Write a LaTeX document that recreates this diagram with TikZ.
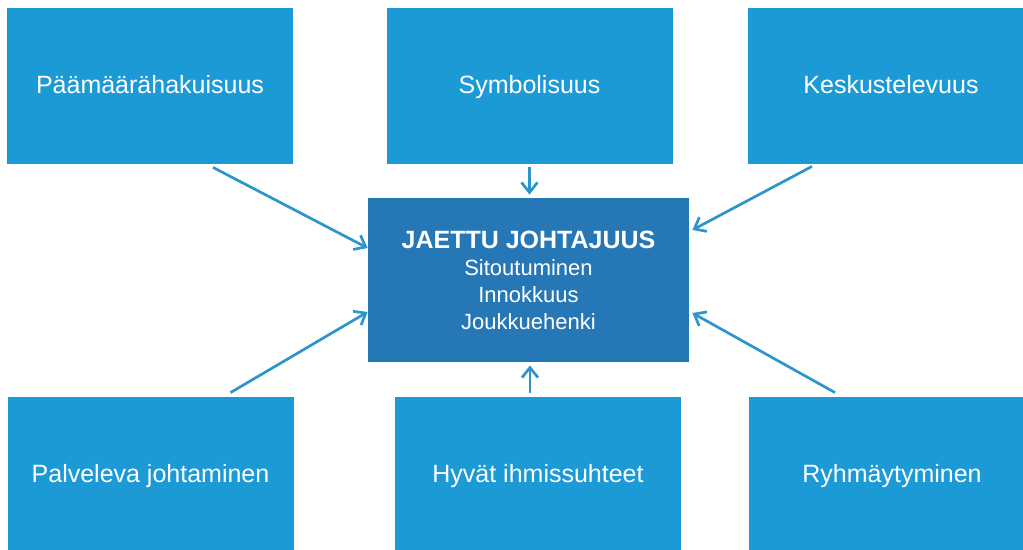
\documentclass[tikz,border=0pt]{standalone}
\usepackage{fontspec}
\setmainfont{Liberation Sans}
\usetikzlibrary{arrows.meta,calc}

\definecolor{boxblue}{HTML}{1C9AD6}
\definecolor{coreblue}{HTML}{2677B6}
\definecolor{arrowblue}{HTML}{2C96CC}

\begin{document}
\begin{tikzpicture}[x=0.5pt, y=-0.5pt,
    factor/.style={fill=boxblue, text=white, inner sep=0pt,
        minimum width=143pt, minimum height=78pt,
        text height=10pt, text depth=2pt,
        font=\fontsize{12.5}{15}\selectfont},
    core/.style={fill=coreblue, text=white, inner sep=0pt, align=center,
        minimum width=160.5pt, minimum height=82pt,
        font=\fontsize{11}{13.5}\selectfont},
    feed/.style={draw=arrowblue, line width=1.35pt,
        -{Straight Barb[length=5pt,width=8pt,line width=1.35pt]}}]
                \useasboundingbox (0,0) rectangle (1023,550);
                \clip (0,0) rectangle (1023,550);

                % Top row
                \node[factor] (paam) at (150,86) {Päämäärähakuisuus};
                \node[factor] (symb) at (529.5,86) {Symbolisuus};
                \node[factor] (kesk) at (891,86) {Keskustelevuus};

                % Shared leadership in the middle
                \node[core] (jaettu) at (528.5,280)
                    {{\fontsize{12.5}{15}\selectfont\bfseries JAETTU JOHTAJUUS}\\
                     Sitoutuminen\\Innokkuus\\Joukkuehenki};

                % Bottom row
                \node[factor] (palv) at (150.5,475) {Palveleva johtaminen};
                \node[factor] (hyva) at (538,475) {Hyvät ihmissuhteet};
                \node[factor] (ryhm) at (892,475) {Ryhmäytyminen};

                %Draw the arrows into the middle
                \draw[feed] ($(paam.south)+(63,3)$) -- ($(jaettu.west)+(0,-32)$);
                \draw[feed] ($(symb.south)+(0,3)$) -- ($(symb.south |- jaettu.north)+(0,-3)$);
                \draw[feed] ($(kesk.south)+(-79,2)$) -- ($(jaettu.east)+(3,-50)$);
                \draw[feed] ($(palv.north)+(80,-4)$) -- ($(jaettu.west)+(0,32)$);
                \draw[feed] ($(hyva.north)+(-8,-4)$) -- ($(jaettu.south)+(1.5,3)$);
                \draw[feed] ($(ryhm.north)+(-57,-4)$) -- ($(jaettu.east)+(3,33)$);

            \end{tikzpicture}
\end{document}
